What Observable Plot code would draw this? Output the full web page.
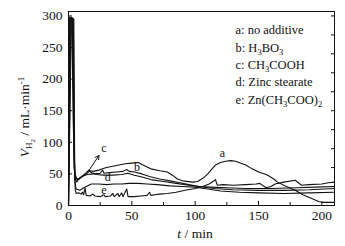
<!DOCTYPE html>
<html><head><meta charset="utf-8">
<script src="https://cdn.jsdelivr.net/npm/d3@7"></script>
<script src="https://cdn.jsdelivr.net/npm/@observablehq/plot@0.6"></script>
<style>body{margin:0;background:#fff} svg{display:block} svg text{font-family:'Liberation Serif','Times New Roman',serif !important}</style>
</head><body><div id="chart"></div>
<script>
// ---- data (t in min, V in mL/min) ----
const seriesA = [[0,0],[0.4,298],[2.6,298],[3.9,120],[5,52],[6,44],[8,41],[11,46],[14,50],[17,55],[20,54],[24,56],[27,58],[30,60],[35,62],[40,64],[45,66],[50,67],[55,68],[60,63],[65,58],[72,55],[78,53],[82,48],[86,42],[90,39],[98,37],[102,38],[106,43],[110,50],[113,57],[116,64],[120,68],[124,70],[128,71],[132,70],[136,67],[140,64],[145,58],[150,53],[155,50],[158,47],[162,42],[165,37],[172,30],[179,24],[185,17],[192,11],[198,6],[200,5],[210,5]];
const seriesB = [[0,0],[0.9,297],[3.0,297],[4.3,60],[5.5,46],[7,40],[9,44],[12,47],[15,49],[20,50],[25,51],[27,56],[28,51],[32,52],[38,53],[43,54],[46,57],[48,54],[52,53],[58,50],[64,46],[72,42],[80,39],[88,36],[95,33],[103,30],[112,29],[125,28],[140,27],[160,27],[180,28],[195,29],[210,30]];
const seriesC = [[0,0],[1.4,296],[3.4,296],[4.6,70],[5.4,42],[6.5,37],[8,42],[11,47],[14,52],[16,56],[18,52],[22,49],[28,48],[35,48],[42,49],[47,51],[52,48],[58,45],[65,41],[75,38],[85,35],[95,32],[103,30],[115,27],[130,25],[150,24],[170,24],[190,25],[210,27]];
const seriesD = [[0,0],[1.9,296],[3.8,296],[4.9,40],[6,26],[9,24],[11,27],[14,30],[18,34],[24,34],[30,33],[36,34],[42,34],[48,35],[55,35],[62,34],[70,33],[80,31],[90,30],[100,29],[110,26],[120,23],[135,21],[150,20],[170,19],[190,20],[210,21]];
const seriesE = [[0,0],[2.3,295],[4.2,295],[4.9,60],[5.3,25],[6,19],[8,20],[10,18],[11,21],[12,17],[13,28],[14,16],[17,15],[19,18],[21,15],[25,14],[28,17],[29,14],[33,15],[35,19],[36,14],[39,19],[40,14],[42,20],[43,14],[46,26],[47,14],[52,14],[57,15],[62,16],[64,21],[65,16],[68,17],[72,18],[78,19],[85,21],[92,24],[100,27],[106,30],[111,34],[114,38],[116,41],[117.5,32],[122,33],[130,32],[140,33],[148,34],[151,35],[156,28],[160,30],[163,34],[170,37],[179,40],[184,32],[190,33],[200,34],[205,36],[210,37]];

const xTicks = [0,50,100,150,200];
const xMinorTicks = [25,75,125,175];
const yTicks = [0,50,100,150,200,250,300];
const yRightTicks = [30,60,90,120,150,180,210,240,270,300];

const curveLabels = ["a","b","c","d","e"];
const curveLabelT = [121.5,54,28,31,28];
const curveLabelV = [83,61,91,45,25];
const arrowC = [{t1:16, v1:55, t2:24, v2:79}];

const legendLines = ["a: no additive","b: H_3BO_3","c: CH_3COOH","d: Zinc stearate","e: Zn(CH_3COO)_2"];

// ---- build ----
const rows = [];
[["a",seriesA],["b",seriesB],["c",seriesC],["d",seriesD],["e",seriesE]]
  .forEach(([k,s]) => s.forEach(([t,v]) => rows.push({k,t,v})));
const labelRows = curveLabels.map((s,i)=>({s, t:curveLabelT[i], v:curveLabelV[i]}));

const font = "'Liberation Serif','Times New Roman',serif";
const W=345, H=246, mL=68, mR=11, mT=11, mB=41;
const iw = W-mL-mR, ih = H-mT-mB;
const ink = "#111";

const plot = Plot.plot({
  width: W, height: H,
  marginLeft: mL, marginRight: mR, marginTop: mT, marginBottom: mB,
  style: {fontFamily: font, fontSize: "12px", color: ink, background: "#fff", overflow: "visible"},
  x: {domain: [0, 210]},
  y: {domain: [0, 307]},
  marks: [
    Plot.line(rows, {x:"t", y:"v", z:"k", stroke: ink, strokeWidth: 1.1}),
    Plot.frame({stroke: ink, strokeWidth: 1}),
    Plot.tickY(yTicks, {y: d=>d, insetRight: iw-4, stroke: ink}),
    Plot.tickY(yRightTicks, {y: d=>d, insetLeft: iw-3, stroke: ink}),
    Plot.tickX(xTicks, {x: d=>d, insetTop: ih-4, stroke: ink}),
    Plot.tickX(xMinorTicks, {x: d=>d, insetTop: ih-3, stroke: ink}),
    Plot.axisX({ticks: xTicks, tickSize: 0, tickPadding: 5, fontSize: 13.5, label: null}),
    Plot.axisY({ticks: yTicks, tickSize: 0, tickPadding: 6, fontSize: 13.5, label: null}),
    Plot.text(labelRows, {x:"t", y:"v", text:"s", fontSize: 12, fill: ink}),
    Plot.arrow(arrowC, {x1:"t1", y1:"v1", x2:"t2", y2:"v2", stroke: ink, strokeWidth: 1, headLength: 6}),
    ...legendLines.map((s,i) => Plot.text([s], {text: d=>d, frameAnchor: "top-left", textAnchor: "start",
        dx: 167, dy: 14 + i*17.3, fontSize: 12.5, fill: ink}))
  ]
});
document.getElementById("chart").appendChild(plot);

// ---- rich text (subscripts / italics) ----
const svg = d3.select(plot);
svg.attr("font-family", font);
function setParts(sel, parts){
  sel.text(null);
  let shift = 0;
  parts.forEach(p => {
    const ts = sel.append("tspan").text(p.t);
    const target = p.shift || 0;
    if (target !== shift) { ts.attr("dy", target - shift); shift = target; }
    if (p.fs) ts.attr("font-size", p.fs);
    if (p.it) ts.attr("font-style", "italic");
  });
}
function subParts(str){
  const parts = []; let buf = "";
  for (let i=0;i<str.length;i++){
    if (str[i]==="_" && i+1<str.length){ if(buf) parts.push({t:buf}); buf=""; parts.push({t:str[i+1], fs:8.5, shift:3}); i++; }
    else buf += str[i];
  }
  if (buf) parts.push({t:buf});
  return parts;
}
svg.selectAll("text").each(function(){
  const el = d3.select(this);
  if (el.selectAll("tspan").size()===0 && this.textContent.includes("_")) setParts(el, subParts(this.textContent));
});

// axis titles
const xl = svg.append("text").attr("transform", "translate(195,238)")
  .attr("text-anchor", "middle").attr("font-size", 13.5).attr("fill", ink);
setParts(xl, [{t:"t", it:true}, {t:" / min"}]);

const yl = svg.append("text").attr("transform", "translate(29,117) rotate(-90)")
  .attr("text-anchor", "middle").attr("font-size", 13.5).attr("fill", ink);
setParts(yl, [{t:"V", it:true}, {t:"H", fs:9, shift:3}, {t:"2", fs:7, shift:5.5}, {t:" / mL·min"}, {t:"-1", fs:9, shift:-5}]);
</script>
</body></html>
